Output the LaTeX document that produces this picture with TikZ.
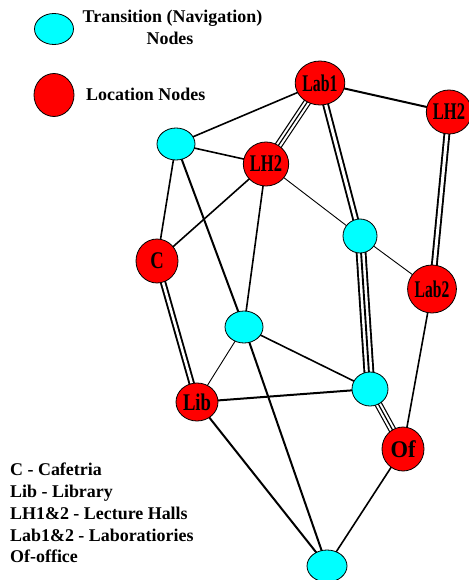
\documentclass[tikz,border=0pt]{standalone}
\usepackage{fontspec}
\usepackage{graphicx}
\setmainfont{Liberation Serif}
\usetikzlibrary{shapes.geometric}
\pgfdeclarelayer{bg}
\pgfsetlayers{bg,main}

\definecolor{navcyan}{RGB}{0,255,255}
\definecolor{locred}{RGB}{255,0,0}

% node label, squeezed horizontally by #1
\newcommand{\nlbl}[2]{\scalebox{#1}[1]{#2}}

\tikzset{
  navnode/.style={ellipse, draw=black, line width=0.8bp, fill=navcyan, inner sep=0pt},
  locnode/.style={ellipse, draw=black, line width=0.8bp, fill=locred, inner sep=0pt,
    font=\fontsize{24}{24}\selectfont\bfseries},
  legtext/.style={font=\fontsize{18}{20}\selectfont\bfseries, inner sep=0pt},
  thickedge/.style={line width=2bp},
  midedge/.style={line width=1.6bp},
  thinedge/.style={line width=0.9bp},
  dbledge/.style={draw=black, double=white, line width=1.9bp, double distance=#1},
  dbledge/.default=3bp,
  tripleouter/.style={draw=black, double=white, line width=#1},
  triplemid/.style={line width=#1},
}

\begin{document}
\begin{tikzpicture}[x=1bp, y=-1bp]
\useasboundingbox (0,0) rectangle (469,580);

% legend
\node[navnode, minimum width=39bp, minimum height=31bp] (legnav) at (54,29) {};
\node[legtext, anchor=base] (legnavA) at (172.5,23) {Transition (Navigation)};
\node[legtext, anchor=base] (legnavB) at (170,45) {Nodes};
\node[locnode, minimum width=40bp, minimum height=43bp] (legloc) at (54,95) {};
\node[legtext, anchor=base west] (leglocA) at (86,101) {Location Nodes};

% graph nodes
\node[locnode, minimum width=38bp, minimum height=44bp] (lab1) at (320,83) {\nlbl{0.66}{Lab1}};
\node[locnode, minimum width=42bp, minimum height=44bp] (lh2r) at (449,112) {\nlbl{0.69}{LH2}};
\node[navnode, minimum width=38bp, minimum height=32bp] (t1) at (176,144) {};
\node[locnode, minimum width=42bp, minimum height=44bp] (lh2m) at (266,164) {\nlbl{0.69}{LH2}};
\node[locnode, minimum width=42bp, minimum height=44bp] (caf) at (157,261) {\nlbl{0.78}{C}};
\node[navnode, minimum width=34bp, minimum height=34bp] (t2) at (360,236) {};
\node[locnode, minimum width=48bp, minimum height=48bp] (lab2) at (432,289) {\nlbl{0.65}{Lab2}};
\node[navnode, minimum width=38bp, minimum height=32bp] (t3) at (244,327) {};
\node[navnode, minimum width=36bp, minimum height=34bp] (t4) at (370,389) {};
\node[locnode, minimum width=42bp, minimum height=38bp] (lib) at (197,402) {\nlbl{0.78}{Lib}};
\node[locnode, minimum width=42bp, minimum height=44bp] (off) at (403,449) {\nlbl{0.94}{Of}};
\node[navnode, minimum width=40bp, minimum height=32bp] (t5) at (327,566) {};

% connectors
\begin{pgfonlayer}{bg}
  \draw[thickedge] (lab1.center) -- (lh2r.center);
  \draw[midedge] (lab1.center) -- (t1.center);
  \draw[midedge] (t1.center) -- (caf.center);
  \draw[thickedge] (t1.center) -- (t3.center);
  \draw[midedge] (lh2m.center) -- (caf.center);
  \draw[midedge] (lh2m.center) -- (t3.center);
  \draw[midedge] (lab2.center) -- (off.center);
  \draw[midedge] (t3.center) -- (t4.center);
  \draw[thickedge] (t3.center) -- (t5.center);
  \draw[thickedge] (lib.center) -- (t4.center);
  \draw[thickedge] (lib.center) -- (t5.center);
  \draw[midedge] (off.center) -- (t5.center);

  \draw[midedge] (t1.center) -- (lh2m.center);
  \draw[thinedge] (lh2m.center) -- (t2.center);
  \draw[thinedge] (t2.center) -- (lab2.center);
  \draw[thinedge] (t3.center) -- (lib.center);

  \draw[dbledge=3bp] (lh2r.center) -- (lab2.center);
  \draw[dbledge=2.6bp] (caf.center) -- (lib.center);
  \draw[dbledge=3bp] (lab1.center) -- (t2.center);

  \draw[tripleouter=1.2bp, double distance=5.4bp] (lab1.center) -- (lh2m.center);
  \draw[triplemid=1.2bp] (lab1.center) -- (lh2m.center);
  \draw[tripleouter=1.9bp, double distance=7bp] (t2.center) -- (t4.center);
  \draw[triplemid=1.9bp] (t2.center) -- (t4.center);
  \draw[tripleouter=1.2bp, double distance=5.4bp] (t4.center) -- (off.center);
  \draw[triplemid=1.2bp] (t4.center) -- (off.center);
\end{pgfonlayer}

% abbreviations
\node[legtext, anchor=base west] (abbC) at (10,475) {C - Cafetria};
\node[legtext, anchor=base west] (abbLib) at (10,497) {Lib - Library};
\node[legtext, anchor=base west] (abbLH) at (10,519) {LH1\&2 - Lecture Halls};
\node[legtext, anchor=base west] (abbLab) at (10,541) {Lab1\&2 - Laboratiories};
\node[legtext, anchor=base west] (abbOf) at (10,562) {Of-office};
\end{tikzpicture}
\end{document}
